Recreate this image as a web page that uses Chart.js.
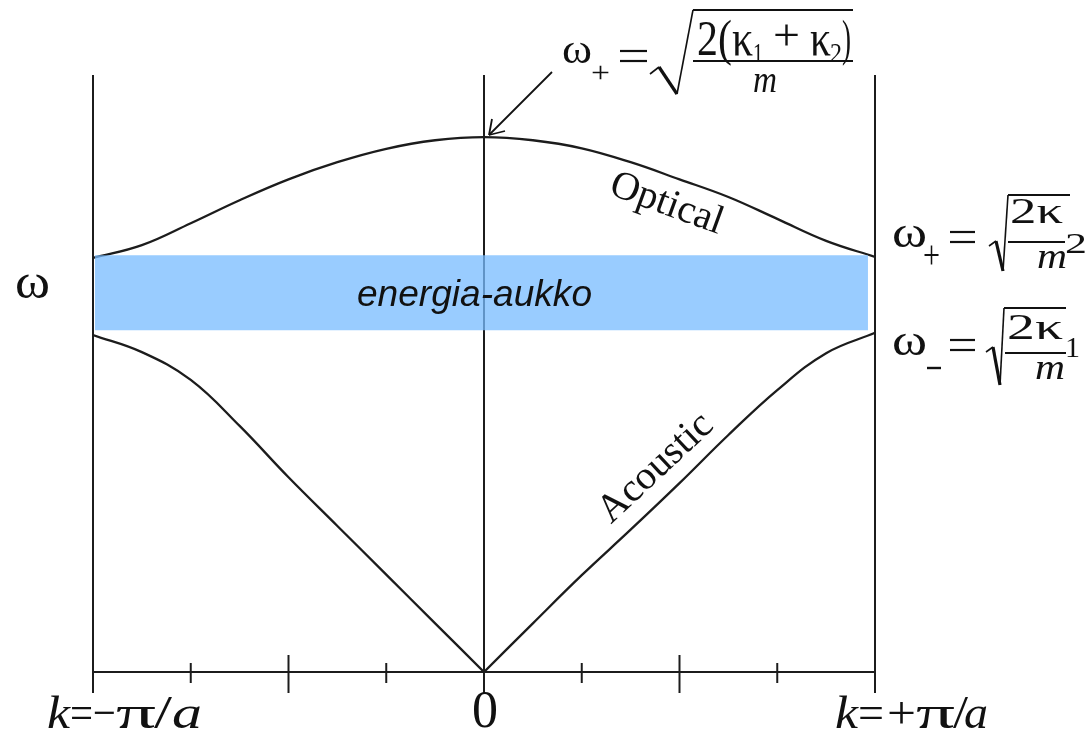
<!DOCTYPE html>
<html>
<head>
<meta charset="utf-8">
<script src="https://cdn.jsdelivr.net/npm/chart.js@4"></script>
<style>
  html, body { margin: 0; padding: 0; background: #fff; }
  #wrap { width: 1092px; height: 732px; position: relative; }
</style>
</head>
<body>
<div id="wrap"><canvas id="myChart"></canvas></div>
<script>
// wave vector k in units of pi/a, frequency in units of the top optical value
const K = [-1, -0.875, -0.75, -0.625, -0.5, -0.375, -0.25, -0.125, 0, 0.125, 0.25, 0.375, 0.5, 0.625, 0.75, 0.875, 1];
const OPTICAL = [0.774, 0.798, 0.839, 0.882, 0.921, 0.953, 0.978, 0.994, 1.000, 0.994, 0.979, 0.953, 0.921, 0.888, 0.847, 0.806, 0.776];
const ACOUSTIC = [0.630, 0.598, 0.546, 0.460, 0.364, 0.273, 0.182, 0.091, 0, 0.091, 0.181, 0.266, 0.353, 0.443, 0.527, 0.596, 0.634];

// band gap
const GAP_K = [-0.995, 0.982];
const GAP_TOP = 0.779;
const GAP_BOTTOM = 0.639;

// zone edges and axis ticks
const ZONE_LINES = [-1, 0, 1];
const TICKS_SHORT = [-0.75, -0.25, 0.25, 0.75];
const TICKS_LONG = [-0.5, 0.5];
const OMEGA_MAX = 1.116;

const INK = '#1c1c1c';
const SERIF = '"Liberation Serif", "Times New Roman", serif';

function pts(xs, ys) {
    return xs.map((x, i) => ({x: x, y: ys[i]}));
}

const mid = K.indexOf(0);

function branch(label, xs, ys) {
    return {
        label: label,
        data: pts(xs, ys),
        borderColor: INK,
        borderWidth: 2.3,
        pointRadius: 0,
        tension: 0.4,
        order: 2
    };
}

const data = {
    datasets: [
        branch('Optical', K, OPTICAL),
        // acoustic branch drawn in two halves so the cusp at k = 0 stays sharp
        branch('Acoustic', K.slice(0, mid + 1), ACOUSTIC.slice(0, mid + 1)),
        branch('Acoustic', K.slice(mid), ACOUSTIC.slice(mid)),
        {
            label: 'energia-aukko',
            data: pts(GAP_K, [GAP_TOP, GAP_TOP]),
            borderWidth: 0,
            pointRadius: 0,
            fill: {value: GAP_BOTTOM},
            backgroundColor: 'rgba(119,187,255,0.75)',
            order: 0
        }
    ]
};

// text squeezed or stretched to a given horizontal span
function fitText(ctx, text, x0, x1, base, size, italic, family) {
    ctx.save();
    ctx.font = (italic ? 'italic ' : '') + size + 'px ' + (family || SERIF);
    const w = ctx.measureText(text).width;
    ctx.translate(x0, base);
    ctx.scale((x1 - x0) / w, 1);
    ctx.textAlign = 'left';
    ctx.textBaseline = 'alphabetic';
    ctx.fillText(text, 0, 0);
    ctx.restore();
}

function rotText(ctx, text, cx, cy, deg, size) {
    ctx.save();
    ctx.translate(cx, cy);
    ctx.rotate(deg * Math.PI / 180);
    ctx.font = size + 'px ' + SERIF;
    ctx.textAlign = 'center';
    ctx.textBaseline = 'alphabetic';
    ctx.fillText(text, 0, 0);
    ctx.restore();
}

function seg(ctx, x0, y0, x1, y1, w) {
    ctx.lineWidth = w;
    ctx.beginPath();
    ctx.moveTo(x0, y0);
    ctx.lineTo(x1, y1);
    ctx.stroke();
}

// square root sign: small tick, heavy down stroke, thin up stroke, overline
function radical(ctx, p) {
    seg(ctx, p[0][0], p[0][1], p[1][0], p[1][1], 1.6);
    seg(ctx, p[1][0], p[1][1], p[2][0], p[2][1], 3.2);
    seg(ctx, p[2][0], p[2][1], p[3][0], p[3][1], 1.6);
    seg(ctx, p[3][0], p[3][1], p[4][0], p[4][1], 1.8);
}

function equals(ctx, x0, x1, y0, y1) {
    seg(ctx, x0, y0, x1, y0, 2.2);
    seg(ctx, x0, y1, x1, y1, 2.2);
}

const framePlugin = {
    id: 'frame',
    beforeDatasetsDraw(chart) {
        const ctx = chart.ctx;
        const xs = chart.scales.x, ys = chart.scales.y;
        const y0 = ys.getPixelForValue(0);
        const top = ys.getPixelForValue(OMEGA_MAX);
        ctx.save();
        ctx.strokeStyle = INK;
        ctx.lineCap = 'butt';
        ZONE_LINES.forEach(k => {
            const x = xs.getPixelForValue(k);
            seg(ctx, x, top, x, y0 + 21, 2);
        });
        seg(ctx, xs.getPixelForValue(-1), y0, xs.getPixelForValue(1), y0, 2);
        TICKS_SHORT.forEach(k => {
            const x = xs.getPixelForValue(k);
            seg(ctx, x, y0 - 9, x, y0 + 11, 2);
        });
        TICKS_LONG.forEach(k => {
            const x = xs.getPixelForValue(k);
            seg(ctx, x, y0 - 17, x, y0 + 21, 2);
        });
        ctx.restore();
    },
    afterDatasetsDraw(chart) {
        const ctx = chart.ctx;
        ctx.save();
        ctx.fillStyle = '#111';
        ctx.strokeStyle = '#111';

        // gap label
        fitText(ctx, 'energia-aukko', 357, 592, 306, 36, true, '"Liberation Sans", Arial, sans-serif');

        // vertical axis symbol
        fitText(ctx, 'ω', 15, 50, 298, 48, false);

        // branch names
        rotText(ctx, 'Optical', 663, 214, 20, 40);
        rotText(ctx, 'Acoustic', 663, 476, -43, 40);

        // zone boundary labels
        fitText(ctx, 'k', 47, 70, 728, 46, true);
        fitText(ctx, '=−', 70, 116, 728, 46, false);
        fitText(ctx, 'π', 116, 156, 728, 46, false);
        fitText(ctx, '/', 154, 172, 728, 46, false);
        fitText(ctx, 'a', 172, 202, 728, 46, true);
        fitText(ctx, '0', 472, 498, 727, 52, false);
        fitText(ctx, 'k', 835, 858, 728, 46, true);
        fitText(ctx, '=', 858, 884, 728, 46, false);
        fitText(ctx, '+', 887, 916, 728, 46, false);
        fitText(ctx, 'π', 916, 955, 728, 46, false);
        fitText(ctx, '/', 953, 968, 728, 46, false);
        fitText(ctx, 'a', 964, 988, 728, 46, true);

        // omega+ at k = 0
        fitText(ctx, 'ω', 562, 592, 63, 43, false);
        fitText(ctx, '+', 591, 610, 82, 30, false);
        equals(ctx, 620, 647, 51, 61);
        radical(ctx, [[650, 74], [659, 67], [677, 94], [693, 10], [853, 10]]);
        fitText(ctx, '2(κ', 697, 753, 55, 50, false);
        fitText(ctx, '1', 753, 763, 62, 28, false);
        fitText(ctx, '+', 773, 800, 50, 44, false);
        fitText(ctx, 'κ', 810, 831, 55, 50, false);
        fitText(ctx, '2', 830, 842, 62, 28, false);
        fitText(ctx, ')', 842, 851, 55, 50, false);
        seg(ctx, 693, 61, 853, 61, 2);
        fitText(ctx, 'm', 753, 777, 92, 38, true);

        // arrow pointing to the top of the optical branch
        seg(ctx, 552, 72, 489, 135, 1.8);
        seg(ctx, 489, 135, 492, 119, 1.8);
        seg(ctx, 489, 135, 505, 131, 1.8);

        // optical branch at the zone edge
        fitText(ctx, 'ω', 892, 927, 247, 44, false);
        fitText(ctx, '+', 923, 940, 268, 40, false);
        equals(ctx, 950, 975, 232, 242);
        radical(ctx, [[989, 246], [996, 241], [1003, 271], [1008, 195], [1070, 195]]);
        fitText(ctx, '2κ', 1010, 1063, 223, 35, false);
        seg(ctx, 1008, 242, 1065, 242, 2);
        fitText(ctx, 'm', 1037, 1067, 268, 36, true);
        fitText(ctx, '2', 1065, 1087, 253, 30, false);

        // acoustic branch at the zone edge
        fitText(ctx, 'ω', 892, 927, 355, 44, false);
        seg(ctx, 927, 368, 941, 368, 2.4);
        equals(ctx, 950, 975, 340, 350);
        radical(ctx, [[986, 352], [993, 347], [1000, 385], [1004, 308], [1066, 308]]);
        fitText(ctx, '2κ', 1007, 1063, 339, 35, false);
        seg(ctx, 1005, 353, 1066, 353, 2);
        fitText(ctx, 'm', 1035, 1065, 379, 36, true);
        fitText(ctx, '1', 1065, 1080, 357, 30, false);

        ctx.restore();
    }
};

const config = {
    type: 'line',
    data: data,
    options: {
        responsive: true,
        maintainAspectRatio: false,
        animation: false,
        layout: {
            padding: {left: 93, right: 217, top: 75, bottom: 60}
        },
        scales: {
            x: {type: 'linear', min: -1, max: 1, display: false},
            y: {type: 'linear', min: 0, max: OMEGA_MAX, display: false}
        },
        plugins: {
            legend: {display: false},
            tooltip: {enabled: false}
        }
    },
    plugins: [framePlugin]
};

const myChart = new Chart(document.getElementById('myChart'), config);
</script>
</body>
</html>
